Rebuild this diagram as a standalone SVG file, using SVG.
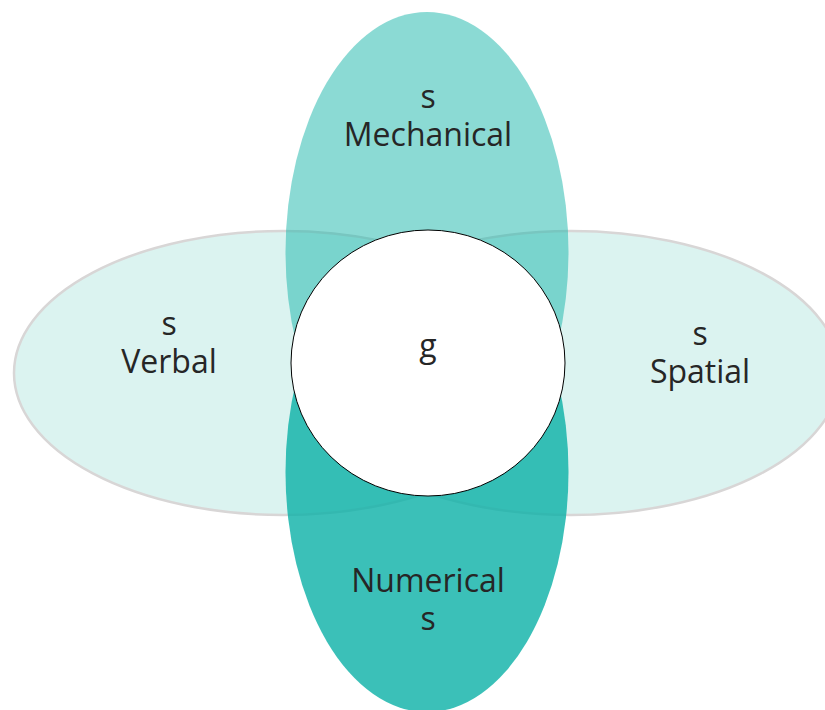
<svg xmlns="http://www.w3.org/2000/svg" width="825" height="710" viewBox="0 0 825 710">
<style>
.side{fill:#dbf3f0;stroke:#d8d6d6;stroke-width:2.5}
.top{fill:#17b6aa;fill-opacity:0.5}
.bot{fill:#0ab0a6;fill-opacity:0.8}
.core{fill:#ffffff;stroke:#000000;stroke-width:1}
text{font-family:"Open Sans","Noto Sans","DejaVu Sans",sans-serif;font-size:32px;fill:#262626;text-anchor:middle}
</style>
<rect width="825" height="710" fill="#ffffff"/>
<g id="verbal">
<ellipse class="side" cx="283" cy="373" rx="269" ry="142"/>
</g>
<g id="spatial">
<ellipse class="side" cx="571" cy="373" rx="269" ry="142"/>
</g>
<g id="mechanical">
<ellipse class="top" cx="427" cy="252" rx="141.5" ry="240"/>
</g>
<g id="numerical">
<ellipse class="bot" cx="427" cy="472" rx="141.5" ry="240"/>
</g>
<g id="g-node">
<ellipse class="core" cx="428" cy="363" rx="137" ry="133"/>
<text x="428" y="357">g</text>
</g>
<g id="labels">
<text x="428" y="108">s</text>
<text x="428" y="146">Mechanical</text>
<text x="169" y="335">s</text>
<text x="169" y="373">Verbal</text>
<text x="700" y="345">s</text>
<text x="700" y="383">Spatial</text>
<text x="428" y="592">Numerical</text>
<text x="428" y="630">s</text>
</g>
<g id="connectors"></g>
</svg>
